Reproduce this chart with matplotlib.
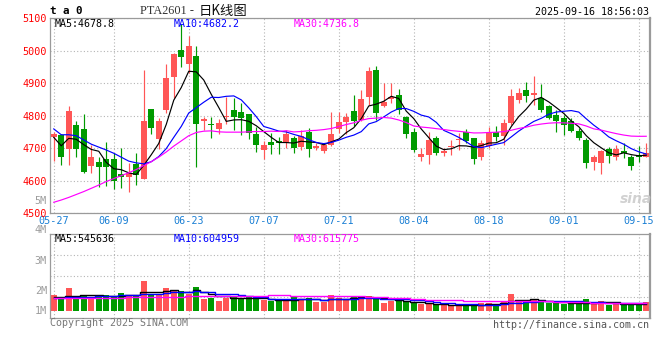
import numpy as np
import pandas as pd
import matplotlib
matplotlib.use("Agg")
import matplotlib.pyplot as plt

# ---------------- data ----------------
opens = [4735, 4740, 4696, 4771, 4759, 4646, 4658, 4667, 4667, 4621,
         4612, 4650, 4606, 4821, 4728, 4817, 4920, 5002, 4960, 4984,
         4782, 4774, 4759, 4796, 4818, 4812, 4805, 4744, 4694, 4719,
         4722, 4715, 4730, 4702, 4748, 4700, 4690, 4710, 4758, 4779,
         4814, 4787, 4858, 4941, 4831, 4851, 4864, 4797, 4751, 4671,
         4679, 4730, 4686, 4702, 4724, 4749, 4730, 4671, 4705, 4749,
         4738, 4776, 4848, 4879, 4863, 4853, 4830, 4802, 4792, 4784,
         4754, 4725, 4657, 4654, 4698, 4671, 4691, 4671, 4679, 4672]
highs = [4748, 4744, 4830, 4782, 4805, 4710, 4674, 4720, 4686, 4700,
         4653, 4684, 4941, 4821, 4792, 4959, 4993, 5081, 5045, 5015,
         4797, 4795, 4790, 4856, 4853, 4838, 4806, 4766, 4722, 4746,
         4735, 4756, 4738, 4756, 4761, 4715, 4715, 4812, 4812, 4807,
         4864, 4879, 4951, 4953, 4900, 4900, 4882, 4798, 4761, 4700,
         4749, 4738, 4700, 4725, 4746, 4759, 4732, 4725, 4764, 4768,
         4789, 4882, 4884, 4903, 4922, 4897, 4832, 4817, 4802, 4792,
         4761, 4730, 4679, 4695, 4703, 4710, 4715, 4679, 4705, 4715]
lows = [4660, 4648, 4648, 4671, 4622, 4623, 4579, 4582, 4574, 4576,
        4566, 4587, 4606, 4744, 4698, 4807, 4853, 4951, 4932, 4643,
        4756, 4730, 4743, 4774, 4756, 4741, 4729, 4689, 4667, 4681,
        4683, 4700, 4684, 4694, 4671, 4694, 4684, 4705, 4746, 4743,
        4768, 4782, 4833, 4787, 4828, 4838, 4804, 4730, 4689, 4659,
        4651, 4679, 4677, 4679, 4694, 4715, 4651, 4664, 4700, 4722,
        4708, 4771, 4838, 4843, 4833, 4812, 4789, 4751, 4741, 4751,
        4725, 4638, 4633, 4620, 4654, 4664, 4669, 4633, 4658, 4671]
closes = [4744, 4671, 4814, 4698, 4625, 4671, 4643, 4643, 4600, 4610,
          4623, 4617, 4784, 4763, 4784, 4916, 4990, 4979, 5014, 4775,
          4790, 4770, 4776, 4800, 4797, 4794, 4745, 4708, 4710, 4708,
          4715, 4744, 4700, 4738, 4697, 4707, 4710, 4744, 4780, 4797,
          4782, 4851, 4938, 4809, 4841, 4858, 4818, 4743, 4694, 4681,
          4725, 4686, 4690, 4707, 4728, 4722, 4666, 4715, 4746, 4733,
          4776, 4861, 4869, 4861, 4871, 4818, 4792, 4782, 4771, 4754,
          4730, 4654, 4674, 4692, 4677, 4698, 4686, 4646, 4674, 4686]
volume_k = [1241, 1030, 1822, 1162, 1162, 1030, 1162, 1214, 1162, 1399,
            1162, 1162, 2350, 1320, 1320, 1795, 1584, 1558, 1320, 1874,
            924, 1030, 792, 1030, 1162, 977, 1056, 924, 845, 792,
            792, 898, 1109, 950, 977, 660, 713, 1241, 977, 898,
            1162, 1056, 1162, 898, 634, 766, 766, 713, 581, 528,
            528, 449, 449, 396, 449, 396, 449, 581, 634, 528,
            766, 1320, 845, 713, 845, 660, 634, 634, 528, 581,
            581, 898, 581, 766, 449, 581, 449, 449, 581, 686]

# moving-average values at the start of the window (read off the lines,
# history before the first candle is not shown)
ma5_head = [4733, 4707, 4730, 4727]
ma10_head = [4759, 4741, 4741, 4738, 4725, 4712, 4703, 4694, 4684]
ma30_head = [4533, 4540, 4548, 4557, 4566, 4576, 4586, 4597, 4606, 4615,
             4624, 4634, 4646, 4658, 4672, 4688, 4706, 4722, 4738, 4748,
             4752, 4753, 4750, 4749, 4749, 4749, 4750, 4751, 4751]
vma5_head = [1060, 1080, 1190, 1180]
vma10_head = [1030, 1020, 1060, 1080, 1100, 1110, 1130, 1150, 1160]
vma30_head = [990, 995, 1000, 1005, 1010, 1015, 1020, 1025, 1035, 1045,
              1055, 1060, 1070, 1080, 1090, 1100, 1110, 1120, 1130, 1140,
              1145, 1150, 1150, 1155, 1160, 1160, 1165, 1165, 1170]

price_ticks = [4500, 4600, 4700, 4800, 4900, 5000, 5100]
tick_dates = ['05-27', '06-09', '06-23', '07-07', '07-21', '08-04', '08-18', '09-01', '09-15']
ma_price_labels = ['MA5:4678.8', 'MA10:4682.2', 'MA30:4736.8']
ma_vol_labels = ['MA5:545636', 'MA10:604959', 'MA30:615775']
vol_axis_labels = ['5M', '4M', '3M', '2M', '1M']

# ---------------- styling ----------------
RED = '#ff5656'
GREEN = '#009a00'
MA_COLORS = ['#000000', '#0000ff', '#ff00ff']
GRID = '#b4b4b4'
FRAME = '#9a9a9a'
MONO = 'DejaVu Sans Mono'
plt.rcParams['font.family'] = MONO

W, H = 660, 360
fig = plt.figure(figsize=(W / 100, H / 100), dpi=100)


def fx(x):
    return x / W


def fy(y):
    return 1 - y / H


dates = pd.bdate_range('2025-05-27', '2025-09-16', freq='C', holidays=['2025-06-02'])
date_labels = list(dates.strftime('%m-%d'))
n = len(closes)
x = np.arange(n)
tick_idx = [date_labels.index(d) for d in tick_dates]

o = np.array(opens, float)
h = np.array(highs, float)
l = np.array(lows, float)
c = np.array(closes, float)
v = np.array(volume_k, float)
up = c >= o
colors = np.where(up, RED, GREEN)


def moving(series, window, head):
    s = pd.Series(series).rolling(window).mean().to_numpy()
    s[:len(head)] = head
    return s


ma = [moving(c, 5, ma5_head), moving(c, 10, ma10_head), moving(c, 30, ma30_head)]
vma = [moving(v, 5, vma5_head), moving(v, 10, vma10_head), moving(v, 30, vma30_head)]

# ---------------- price panel ----------------
ax = fig.add_axes([fx(50), fy(213), 600 / W, (213 - 18.2) / H])
ax.set_xlim(-0.5, n - 0.5)
ax.set_ylim(4500, 5100)
ax.vlines(x, l, h, colors=colors, lw=0.85, zorder=2)
body_low = np.minimum(o, c)
body_h = np.maximum(np.abs(c - o), 2.5)
ax.bar(x, body_h, bottom=body_low, width=0.8, color=colors, linewidth=0, zorder=3)
for m, col in zip(ma, MA_COLORS):
    ax.plot(x, m, color=col, lw=0.85, zorder=4)

ax.set_yticks(price_ticks)
ax.set_xticks(tick_idx)
ax.set_xticklabels(tick_dates)
ax.tick_params(axis='y', length=0, pad=2.5, labelsize=7.3, labelcolor='#ff0000')
ax.tick_params(axis='x', length=0, pad=2.2, labelsize=7.3, labelcolor='#1a7fd4')
ax.grid(True, color=GRID, ls=(0, (1, 2)), lw=0.8)
for side, sp in ax.spines.items():
    sp.set_color(FRAME)
    sp.set_linewidth(1.6 if side == 'right' else 0.9)

# header texts inside the price panel
for lab, col, px in zip(ma_price_labels, MA_COLORS, [55, 174, 294]):
    fig.text(fx(px), fy(24), lab, color=col, fontsize=7.2, family=MONO,
             ha='left', va='center')

# sina watermark
fig.text(fx(636), fy(199), 'sina', color='#cccccc', fontsize=10, style='italic',
         weight='bold', family='DejaVu Sans', ha='center', va='center', alpha=0.9)

# ---------------- volume panel ----------------
axv = fig.add_axes([fx(50), fy(318.3), 600 / W, (318.3 - 234) / H])
axv.set_xlim(-0.5, n - 0.5)
vlo, vhi = -600, 6075
axv.set_ylim(vlo, vhi)
axv.bar(x, v, width=0.76, color=colors, linewidth=0, zorder=2)
for m, col in zip(vma, MA_COLORS):
    axv.plot(x, m, color=col, lw=1.0, zorder=3, drawstyle='steps-mid')
axv.set_xticks(tick_idx)
axv.set_xticklabels([])
axv.set_yticks([vlo + f * (vhi - vlo) for f in (0.25, 0.5, 0.75)])
axv.set_yticklabels([])
axv.tick_params(length=0)
axv.grid(True, color=GRID, ls=(0, (1, 2)), lw=0.8)
for side, sp in axv.spines.items():
    sp.set_color(FRAME)
    sp.set_linewidth(1.6 if side == 'right' else 0.9)

for lab, col, px in zip(ma_vol_labels, MA_COLORS, [55, 174, 294]):
    fig.text(fx(px), fy(238.5), lab, color=col, fontsize=7.2, family=MONO,
             ha='left', va='center')

for lab, py in zip(vol_axis_labels, [201, 230.5, 261, 291, 311]):
    fig.text(fx(47), fy(py), lab, color='#9c9c9c', fontsize=7.3, family=MONO,
             ha='right', va='center')

# ---------------- top and bottom texts ----------------
fig.text(fx(50), fy(11), 't a 0', fontsize=7.8, weight='bold', family=MONO,
         ha='left', va='center', color='#000000')
fig.text(fx(140), fy(11), 'PTA2601 -', fontsize=8.8, family='Liberation Serif',
         ha='left', va='center', color='#333333')
fig.text(fx(199), fy(11), '日K线图', fontsize=9.6, family=['Noto Sans CJK SC', 'DejaVu Sans'],
         ha='left', va='center', color='#111111')
fig.text(fx(649), fy(12), '2025-09-16 18:56:03', fontsize=7.2, family=MONO,
         ha='right', va='center', color='#000000')
fig.text(fx(50), fy(323.5), 'Copyright 2025 SINA.COM', fontsize=7.2, family=MONO,
         ha='left', va='center', color='#777777')
fig.text(fx(649), fy(324.5), 'http://finance.sina.com.cn', fontsize=7.2, family=MONO,
         ha='right', va='center', color='#555555')

fig.savefig('out.png', dpi=100)
